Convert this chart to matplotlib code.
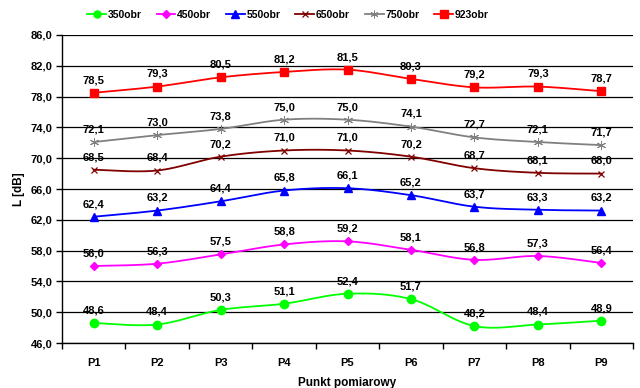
import numpy as np
import matplotlib
matplotlib.use("Agg")
import matplotlib.pyplot as plt
from matplotlib.lines import Line2D

plt.rcParams['font.family'] = ['Liberation Sans', 'DejaVu Sans']
plt.rcParams['font.weight'] = 'bold'

categories = ["P1", "P2", "P3", "P4", "P5", "P6", "P7", "P8", "P9"]
s350 = [48.6, 48.4, 50.3, 51.1, 52.4, 51.7, 48.2, 48.4, 48.9]
s450 = [56.0, 56.3, 57.5, 58.8, 59.2, 58.1, 56.8, 57.3, 56.4]
s550 = [62.4, 63.2, 64.4, 65.8, 66.1, 65.2, 63.7, 63.3, 63.2]
s650 = [68.5, 68.4, 70.2, 71.0, 71.0, 70.2, 68.7, 68.1, 68.0]
s750 = [72.1, 73.0, 73.8, 75.0, 75.0, 74.1, 72.7, 72.1, 71.7]
s923 = [78.5, 79.3, 80.5, 81.2, 81.5, 80.3, 79.2, 79.3, 78.7]
series_names = ["350obr", "450obr", "550obr", "650obr", "750obr", "923obr"]
series = [s350, s450, s550, s650, s750, s923]
colors = ["#00FF00", "#FF00FF", "#0000FF", "#800000", "#808080", "#FF0000"]
markers = ["o", "D", "^", "x", (6, 2, 0), "s"]
msizes = [6, 4.5, 6, 5, 6.5, 6]
mews = [1, 1, 1, 0.9, 0.7, 1]
yticks = np.arange(46, 86.1, 4)


def smooth(x, y, n=30):
    x = np.asarray(x, float); y = np.asarray(y, float)
    P = np.column_stack([x, y])
    out = [P[0]]
    m = len(P)
    for i in range(m - 1):
        p0 = P[i - 1] if i > 0 else P[i]
        p1 = P[i]
        p2 = P[i + 1]
        p3 = P[i + 2] if i + 2 < m else P[i + 1]
        c1 = p1 + (p2 - p0) / 6.0
        c2 = p2 - (p3 - p1) / 6.0
        t = np.linspace(0, 1, n)[1:, None]
        b = ((1 - t) ** 3) * p1 + 3 * ((1 - t) ** 2) * t * c1 + 3 * (1 - t) * t ** 2 * c2 + t ** 3 * p2
        out.extend(b)
    out = np.array(out)
    return out[:, 0], out[:, 1]


fig = plt.figure(figsize=(6.4, 3.88), dpi=100)
ax = fig.add_axes([62 / 640, 1 - 343 / 388, (633 - 62) / 640, (343 - 35) / 388])

x = np.arange(len(categories))
for vals, c, mk, ms, mw in zip(series, colors, markers, msizes, mews):
    sx, sy = smooth(x, vals)
    ax.plot(sx, sy, color=c, lw=1.3, zorder=3)
    ax.plot(x, vals, ls='none', marker=mk, color=c, ms=ms, mew=mw, zorder=4)
    for xi, v in zip(x, vals):
        ax.annotate(f"{v:.1f}".replace('.', ','), (xi, v), xytext=(0, 5.5),
                    textcoords='offset points', ha='center', va='bottom',
                    fontsize=8, fontweight='bold', zorder=5)

ax.set_xlim(-0.5, len(categories) - 0.5)
ax.set_ylim(46, 86)
ax.set_yticks(yticks)
ax.set_yticklabels([f"{v:.1f}".replace('.', ',') for v in yticks], fontsize=8, fontweight='bold')
ax.set_xticks(x)
ax.set_xticklabels(categories, fontsize=8, fontweight='bold')
ax.set_xticks(np.arange(-0.5, len(categories)), minor=True)
ax.tick_params(axis='x', which='major', length=0, pad=11)
ax.tick_params(axis='x', which='minor', length=4, width=1)
ax.tick_params(axis='y', length=4, width=1, pad=3)
ax.yaxis.grid(True, color='black', lw=0.9)
ax.set_axisbelow(True)
for s in ['top', 'right']:
    ax.spines[s].set_visible(False)
ax.spines['left'].set_linewidth(1)
ax.spines['bottom'].set_linewidth(1)

ax.set_ylabel("L [dB]", fontsize=8.5, fontweight='bold', labelpad=4)
ax.set_xlabel("Punkt pomiarowy", fontsize=8.5, fontweight='bold', labelpad=6)

handles = [Line2D([0], [0], color=c, marker=mk, ms=ms * 0.85, lw=1.3, mew=mw)
           for c, mk, ms, mw in zip(colors, markers, msizes, mews)]
fig.legend(handles, series_names, loc='center', bbox_to_anchor=(288 / 640, 1 - 15 / 388),
           ncol=6, frameon=False, handlelength=1.8, handletextpad=0.15,
           columnspacing=1.45, prop={'weight': 'bold', 'size': 7.5})

fig.savefig("out.png", dpi=100)
